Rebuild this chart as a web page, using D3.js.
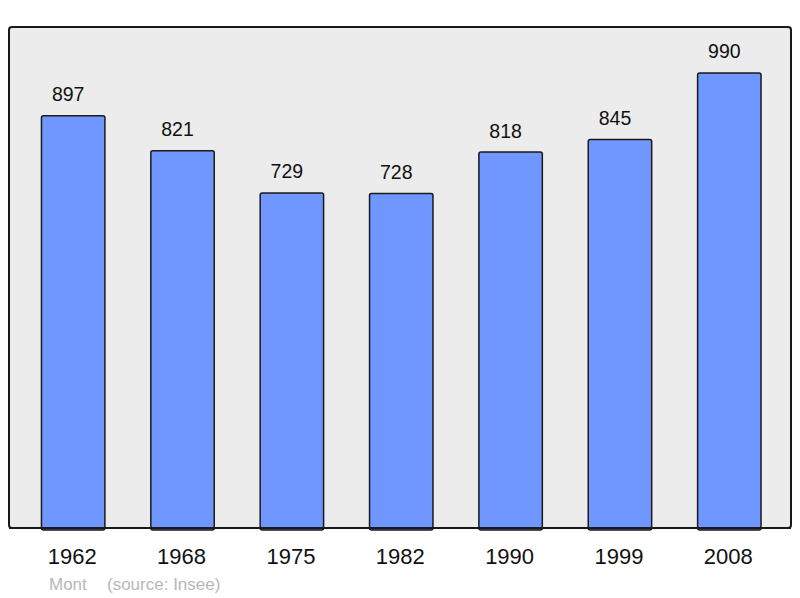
<!DOCTYPE html>
<html>
<head>
<meta charset="utf-8">
<script src="https://cdn.jsdelivr.net/npm/d3@7"></script>
<style>
  body { margin: 0; background: #ffffff; }
  text { font-family: "Liberation Sans", Arial, sans-serif; }
</style>
</head>
<body>
<div id="chart"></div>
<script>
// population per census year
var years = ['1962', '1968', '1975', '1982', '1990', '1999', '2008'];
var population = [897, 821, 729, 728, 818, 845, 990];
var commune = 'Mont';
var source = '(source: Insee)';

var width = 800, height = 598;
var frame = {left: 9, top: 27, right: 791, bottom: 528};

var svg = d3.select('#chart')
  .append('svg')
  .attr('width', width)
  .attr('height', height);

svg.append('rect')
  .attr('x', frame.left)
  .attr('y', frame.top)
  .attr('width', frame.right - frame.left)
  .attr('height', frame.bottom - frame.top)
  .attr('rx', 3)
  .attr('fill', '#ececec')
  .attr('stroke', '#1a1a1a')
  .attr('stroke-width', 2);

var x = d3.scaleBand()
  .domain(years)
  .range([18.5, 784])
  .paddingInner(0.42)
  .paddingOuter(0.21);

var y = d3.scaleLinear()
  .domain([0, 1090])
  .range([frame.bottom, frame.top]);

var data = years.map(function(d, i) { return {year: d, value: population[i]}; });

svg.append('g')
  .selectAll('rect')
  .data(data)
  .enter()
  .append('rect')
  .attr('x', d => x(d.year))
  .attr('y', d => y(d.value))
  .attr('width', x.bandwidth())
  .attr('height', d => frame.bottom - y(d.value) + 2)
  .attr('rx', 2)
  .attr('fill', '#7096ff')
  .attr('stroke', '#1a1a1a')
  .attr('stroke-width', 1.5);

// redraw bottom border over the bars
svg.append('line')
  .attr('x1', frame.left)
  .attr('x2', frame.right)
  .attr('y1', frame.bottom)
  .attr('y2', frame.bottom)
  .attr('stroke', '#1a1a1a')
  .attr('stroke-width', 2);

svg.append('g')
  .selectAll('text')
  .data(data)
  .enter()
  .append('text')
  .attr('x', d => x(d.year) + x.bandwidth() / 2 - 5)
  .attr('y', d => y(d.value) - 14.5)
  .attr('text-anchor', 'middle')
  .attr('font-size', '19.5px')
  .attr('fill', '#111')
  .text(d => d.value);

var xAxis = d3.axisBottom(x).tickSize(0).tickPadding(0);
var gx = svg.append('g')
  .attr('transform', 'translate(-1,564)')
  .call(xAxis);
gx.select('.domain').remove();
gx.selectAll('text')
  .attr('dy', 0)
  .attr('y', 0)
  .attr('font-size', '22px')
  .attr('font-family', '"Liberation Sans", Arial, sans-serif')
  .attr('fill', '#111');

svg.append('text')
  .attr('x', 49)
  .attr('y', 590)
  .attr('font-size', '17px')
  .attr('fill', '#b8b8b8')
  .text(commune);

svg.append('text')
  .attr('x', 107)
  .attr('y', 590)
  .attr('font-size', '17px')
  .attr('fill', '#b8b8b8')
  .text(source);
</script>
</body>
</html>
